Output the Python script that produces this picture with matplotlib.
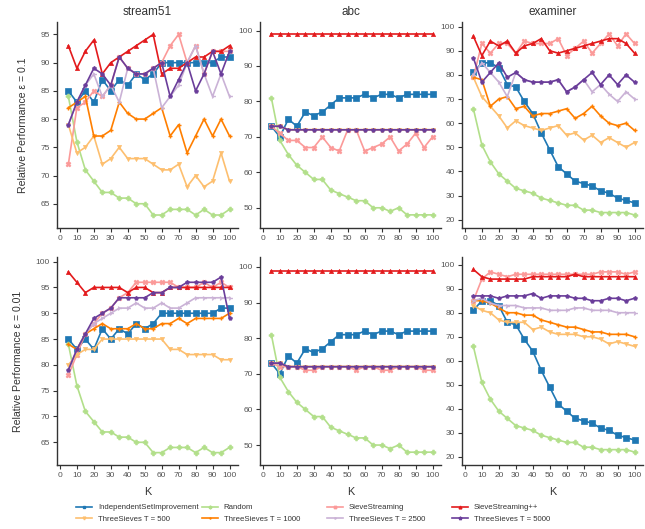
import matplotlib
matplotlib.use("Agg")
import matplotlib.pyplot as plt
from matplotlib.lines import Line2D

plt.rcParams['font.family'] = ['Liberation Sans', 'DejaVu Sans']

K = [5, 10, 15, 20, 25, 30, 35, 40, 45, 50, 55, 60, 65, 70, 75, 80, 85, 90, 95, 100]

methods = ["IndependentSetImprovement", "Random", "SieveStreaming", "SieveStreaming++",
           "ThreeSieves T = 500", "ThreeSieves T = 1000", "ThreeSieves T = 2500", "ThreeSieves T = 5000"]
colors = ["#1f78b4", "#b2df8a", "#fb9a99", "#e31a1c", "#fdbf6f", "#ff7f00", "#cab2d6", "#6a3d9a"]
markers = ["s", "P", "X", "^", "v", "+", "4", "p"]
msizes = [5, 3.5, 3.5, 3, 3, 3.5, 3.5, 3]

datasets = ["stream51", "abc", "examiner"]
eps_labels = ["Relative Performance \u03b5 = 0.1", "Relative Performance \u03b5 = 0.01"]

# ---- stream51, eps = 0.1
s51_isi = [85, 83, 85, 83, 87, 85, 87, 86, 88, 87, 88, 90, 90, 90, 90, 90, 90, 90, 91, 91]
s51_rand = [84, 76, 71, 69, 67, 67, 66, 66, 65, 65, 63, 63, 64, 64, 64, 63, 64, 63, 63, 64]
s51_ss_1 = [72, 82, 83, 85, 84, 86, 91, 89, 88, 88, 89, 90, 93, 95, 90, 93, 88, 92, 92, 92]
s51_sspp_1 = [93, 89, 92, 94, 88, 90, 91, 92, 93, 94, 95, 88, 89, 89, 90, 91, 91, 92, 92, 93]
s51_t500_1 = [79, 74, 75, 77, 72, 73, 75, 73, 73, 73, 72, 71, 71, 72, 68, 70, 68, 69, 74, 69]
s51_t1000_1 = [82, 83, 84, 77, 77, 78, 83, 81, 80, 80, 81, 82, 77, 79, 74, 77, 80, 77, 80, 77]
s51_t2500_1 = [79, 83, 86, 88, 84, 86, 83, 89, 88, 88, 89, 82, 84, 86, 90, 93, 88, 84, 88, 84]
s51_t5000_1 = [79, 83, 86, 89, 88, 86, 91, 89, 88, 88, 89, 90, 84, 87, 90, 85, 88, 92, 88, 92]
# ---- stream51, eps = 0.01
s51_ss_2 = [78, 82, 86, 88, 90, 91, 93, 94, 96, 96, 96, 96, 96, 95, 95, 95, 96, 95, 96, 95]
s51_sspp_2 = [98, 96, 94, 95, 95, 95, 95, 94, 95, 95, 94, 94, 95, 95, 95, 95, 95, 95, 95, 95]
s51_t500_2 = [80, 82, 83, 83, 85, 85, 85, 85, 85, 85, 85, 85, 83, 83, 82, 82, 82, 82, 81, 81]
s51_t1000_2 = [84, 83, 86, 87, 88, 87, 87, 87, 88, 87, 87, 88, 88, 89, 88, 89, 89, 89, 89, 90]
s51_t2500_2 = [79, 83, 86, 88, 89, 90, 91, 91, 92, 91, 91, 92, 91, 91, 92, 93, 93, 93, 93, 93]
s51_t5000_2 = [79, 83, 86, 89, 90, 91, 93, 93, 93, 93, 94, 94, 95, 95, 96, 96, 96, 96, 97, 89]

# ---- abc
abc_isi = [73, 70, 75, 73, 77, 76, 77, 79, 81, 81, 81, 82, 81, 82, 82, 81, 82, 82, 82, 82]
abc_rand = [81, 69, 65, 62, 60, 58, 58, 55, 54, 53, 52, 52, 50, 50, 49, 50, 48, 48, 48, 48]
abc_ss_1 = [73, 71, 69, 69, 67, 67, 70, 67, 66, 72, 72, 66, 67, 68, 70, 66, 68, 71, 67, 70]
abc_ss_2 = [73, 72, 72, 72, 71, 71, 72, 72, 72, 72, 71, 72, 72, 71, 71, 72, 72, 72, 71, 71]
abc_sspp = [99, 99, 99, 99, 99, 99, 99, 99, 99, 99, 99, 99, 99, 99, 99, 99, 99, 99, 99, 99]
abc_three = [73, 73, 72, 72, 72, 72, 72, 72, 72, 72, 72, 72, 72, 72, 72, 72, 72, 72, 72, 72]

# ---- examiner
ex_isi = [81, 85, 85, 83, 76, 75, 69, 64, 56, 49, 42, 39, 36, 35, 34, 32, 31, 29, 28, 27]
ex_rand = [66, 51, 44, 39, 36, 33, 32, 31, 29, 28, 27, 26, 26, 24, 24, 23, 23, 23, 23, 22]
ex_ss_1 = [79, 93, 89, 93, 93, 89, 94, 93, 93, 93, 95, 88, 91, 94, 89, 93, 97, 92, 97, 93]
ex_sspp_1 = [96, 88, 94, 92, 94, 89, 92, 93, 95, 90, 89, 90, 91, 92, 93, 94, 95, 95, 93, 89]
ex_t500_1 = [79, 71, 67, 63, 58, 61, 59, 58, 57, 58, 59, 55, 56, 53, 55, 52, 54, 52, 50, 52]
ex_t1000_1 = [79, 78, 67, 70, 71, 66, 67, 63, 64, 64, 65, 66, 62, 64, 67, 63, 60, 59, 60, 57]
ex_t2500_1 = [80, 85, 81, 77, 71, 81, 78, 77, 77, 77, 78, 73, 75, 78, 73, 76, 72, 69, 73, 70]
ex_t5000_1 = [87, 77, 81, 85, 79, 81, 78, 77, 77, 77, 78, 73, 75, 78, 81, 76, 80, 76, 80, 77]
ex_ss_2 = [85, 94, 97, 96, 95, 96, 96, 96, 96, 96, 96, 96, 96, 96, 96, 97, 97, 97, 96, 97]
ex_sspp_2 = [98, 95, 94, 94, 94, 94, 94, 95, 95, 95, 95, 95, 96, 95, 95, 95, 95, 95, 95, 95]
ex_t500_2 = [83, 81, 80, 77, 76, 76, 76, 73, 74, 72, 71, 71, 71, 70, 70, 69, 67, 68, 67, 66]
ex_t1000_2 = [85, 85, 84, 82, 80, 80, 79, 79, 77, 76, 75, 74, 74, 73, 72, 72, 71, 71, 71, 70]
ex_t2500_2 = [85, 86, 84, 83, 83, 83, 82, 82, 82, 81, 81, 81, 82, 82, 81, 81, 81, 80, 80, 80]
ex_t5000_2 = [87, 87, 87, 86, 87, 87, 87, 88, 86, 87, 87, 87, 86, 86, 85, 85, 86, 86, 85, 86]

panels = {
    (0, 0): [s51_isi, s51_rand, s51_ss_1, s51_sspp_1, s51_t500_1, s51_t1000_1, s51_t2500_1, s51_t5000_1],
    (1, 0): [s51_isi, s51_rand, s51_ss_2, s51_sspp_2, s51_t500_2, s51_t1000_2, s51_t2500_2, s51_t5000_2],
    (0, 1): [abc_isi, abc_rand, abc_ss_1, abc_sspp, abc_three, abc_three, abc_three, abc_three],
    (1, 1): [abc_isi, abc_rand, abc_ss_2, abc_sspp, abc_three, abc_three, abc_three, abc_three],
    (0, 2): [ex_isi, ex_rand, ex_ss_1, ex_sspp_1, ex_t500_1, ex_t1000_1, ex_t2500_1, ex_t5000_1],
    (1, 2): [ex_isi, ex_rand, ex_ss_2, ex_sspp_2, ex_t500_2, ex_t1000_2, ex_t2500_2, ex_t5000_2],
}

ylims = {
    (0, 0): (60.7, 97.2), (1, 0): (60.6, 100.9),
    (0, 1): (44.3, 102.4), (1, 1): (44.4, 102.8),
    (0, 2): (16.6, 101.9), (1, 2): (16.6, 103.2),
}
yticks = {0: list(range(65, 101, 5)), 1: list(range(50, 101, 10)), 2: list(range(20, 101, 10))}

W, H = 645, 529
fig = plt.figure(figsize=(W / 100, H / 100), dpi=100)
lefts = [57, 260, 462]
tops = [22, 257]
bottoms = [228, 465]
axw = 181

spine_col = "#333333"
for r in range(2):
    for c in range(3):
        ax = fig.add_axes([lefts[c] / W, 1 - bottoms[r] / H, axw / W, (bottoms[r] - tops[r]) / H])
        series = panels[(r, c)]
        for i, vals in enumerate(series):
            ax.plot(K, vals, color=colors[i], marker=markers[i], markersize=msizes[i],
                    linewidth=1.2, markeredgewidth=1.0 if markers[i] in "+4" else 0.5,
                    markeredgecolor=colors[i])
        ax.set_xlim(-1.7, 105)
        ax.set_ylim(*ylims[(r, c)])
        ax.set_xticks(range(0, 101, 10))
        yt = [t for t in yticks[c] if ylims[(r, c)][0] <= t <= ylims[(r, c)][1]]
        ax.set_yticks(yt)
        for s in ["top", "right"]:
            ax.spines[s].set_visible(False)
        for s in ["left", "bottom"]:
            ax.spines[s].set_color(spine_col)
            ax.spines[s].set_linewidth(1.0)
        ax.tick_params(labelsize=6, length=3, width=0.8, color=spine_col, labelcolor="#555555", pad=2)
        if r == 0:
            ax.set_title(datasets[c], fontsize=8.5, color="#333333", pad=5)
        if c == 0:
            ax.set_ylabel(eps_labels[r], fontsize=7.6, color="#333333", labelpad=9)
        if r == 1:
            ax.set_xlabel("K", fontsize=7.8, color="#333333", labelpad=6)

# legend: four columns, each its own legend for equal spacing
col_x = [76, 202, 327, 452]
for j in range(4):
    handles = []
    for i in (j, j + 4):
        handles.append(Line2D([0], [0], color=colors[i], marker=markers[i], markersize=2,
                              linewidth=1.2, markeredgecolor=colors[i], label=methods[i]))
    fig.legend(handles=handles, loc="upper left", bbox_to_anchor=(col_x[j] / W, 1 - 504 / H),
               frameon=False, fontsize=5.6, handlelength=2.1, handletextpad=0.7,
               borderpad=0, borderaxespad=0, labelspacing=0.55, labelcolor="#333333")

fig.savefig("out.png", dpi=100)
